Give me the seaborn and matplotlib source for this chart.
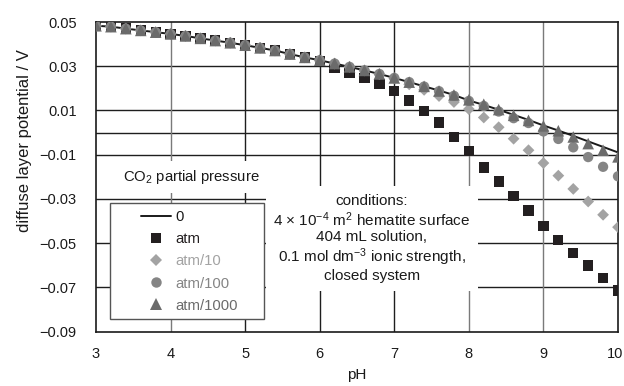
import numpy as np
import pandas as pd
import matplotlib
matplotlib.use("Agg")
import matplotlib.pyplot as plt
import matplotlib.transforms as mtrans
from matplotlib.lines import Line2D
from matplotlib.patches import Rectangle
import seaborn as sns

# ---------------- data ----------------
ph = [3.0, 3.2, 3.4, 3.6, 3.8, 4.0, 4.2, 4.4, 4.6, 4.8, 5.0, 5.2, 5.4, 5.6, 5.8,
      6.0, 6.2, 6.4, 6.6, 6.8, 7.0, 7.2, 7.4, 7.6, 7.8, 8.0, 8.2, 8.4, 8.6, 8.8,
      9.0, 9.2, 9.4, 9.6, 9.8, 10.0]

pot_zero = [0.0483, 0.0479, 0.0470, 0.0462, 0.0454, 0.0446, 0.0437, 0.0426, 0.0416,
            0.0406, 0.0395, 0.0383, 0.0371, 0.0355, 0.0340, 0.0327, 0.0312, 0.0297,
            0.0281, 0.0265, 0.0247, 0.0228, 0.0209, 0.0190, 0.0170, 0.0145, 0.0125,
            0.0103, 0.0080, 0.0057, 0.0032, 0.0009, -0.0015, -0.0040, -0.0065, -0.0090]

pot_atm = [0.0483, 0.0479, 0.0470, 0.0462, 0.0454, 0.0446, 0.0437, 0.0426, 0.0416,
           0.0406, 0.0395, 0.0383, 0.0371, 0.0355, 0.0340, 0.0325, 0.0292, 0.0270,
           0.0247, 0.0221, 0.0189, 0.0145, 0.0098, 0.0045, -0.0021, -0.0085, -0.0158,
           -0.0222, -0.0287, -0.0353, -0.0422, -0.0485, -0.0545, -0.0602, -0.0658, -0.0715]

pot_atm10 = [0.0483, 0.0479, 0.0470, 0.0462, 0.0454, 0.0446, 0.0437, 0.0426, 0.0416,
             0.0406, 0.0395, 0.0383, 0.0371, 0.0355, 0.0340, 0.0327, 0.0312, 0.0297,
             0.0281, 0.0264, 0.0245, 0.0218, 0.0193, 0.0165, 0.0138, 0.0106, 0.0068,
             0.0024, -0.0028, -0.0080, -0.0138, -0.0195, -0.0255, -0.0312, -0.0372, -0.0428]

pot_atm100 = [0.0483, 0.0479, 0.0470, 0.0462, 0.0454, 0.0446, 0.0437, 0.0426, 0.0416,
              0.0406, 0.0395, 0.0383, 0.0371, 0.0355, 0.0340, 0.0327, 0.0312, 0.0297,
              0.0281, 0.0265, 0.0247, 0.0228, 0.0208, 0.0187, 0.0166, 0.0143, 0.0120,
              0.0095, 0.0065, 0.0043, 0.0005, -0.0029, -0.0067, -0.0111, -0.0155, -0.0198]

pot_atm1000 = [0.0483, 0.0479, 0.0470, 0.0462, 0.0454, 0.0446, 0.0437, 0.0426, 0.0416,
               0.0406, 0.0395, 0.0383, 0.0371, 0.0355, 0.0340, 0.0327, 0.0312, 0.0297,
               0.0281, 0.0265, 0.0247, 0.0228, 0.0209, 0.0188, 0.0170, 0.0148, 0.0128,
               0.0104, 0.0078, 0.0055, 0.0030, 0.0008, -0.0020, -0.0050, -0.0080, -0.0110]

series_labels = ["0", "atm", "atm/10", "atm/100", "atm/1000"]
y_ticks = [0.05, 0.03, 0.01, -0.01, -0.03, -0.05, -0.07, -0.09]
y_tick_labels = ["0.05", "0.03", "0.01", "\u22120.01", "\u22120.03", "\u22120.05",
                 "\u22120.07", "\u22120.09"]
x_ticks = [3, 4, 5, 6, 7, 8, 9, 10]

# ---------------- style ----------------
sns.set_theme(style="white")
plt.rcParams["font.family"] = ["Liberation Sans", "DejaVu Sans"]
plt.rcParams["mathtext.fontset"] = "custom"
plt.rcParams["mathtext.rm"] = "Liberation Sans"
plt.rcParams["mathtext.it"] = "Liberation Sans:italic"
plt.rcParams["mathtext.default"] = "regular"

c_line = "#1a1a1a"
c_sq = "#231f20"
c_dia = "#a3a3a3"
c_cir = "#858585"
c_tri = "#6b6b6b"

fig = plt.figure(figsize=(6.24, 3.86), dpi=100)
ax = fig.add_axes([96 / 624, 1 - 331.5 / 386, 522 / 624, 309.5 / 386])

df = pd.DataFrame({"pH": ph, "0": pot_zero, "atm": pot_atm, "atm/10": pot_atm10,
                   "atm/100": pot_atm100, "atm/1000": pot_atm1000})

# grid lines
for yv in [0.03, 0.01, 0.0, -0.01, -0.03, -0.05, -0.07]:
    ax.axhline(yv, color="#1e1e1e", lw=1.0, zorder=0.5)
vcols = {4: "#7a7a7a", 5: "#1e1e1e", 6: "#1e1e1e", 7: "#1e1e1e", 8: "#7a7a7a", 9: "#7a7a7a"}
for xv, cc in vcols.items():
    ax.axvline(xv, color=cc, lw=1.0, zorder=0.5)

sns.lineplot(data=df, x="pH", y="0", color=c_line, lw=1.4, ax=ax, zorder=2)
sns.scatterplot(data=df, x="pH", y="atm", marker="s", s=55, color=c_sq,
                edgecolor="none", ax=ax, zorder=3)
sns.scatterplot(data=df, x="pH", y="atm/10", marker="D", s=36, color=c_dia,
                edgecolor="none", ax=ax, zorder=4)
sns.scatterplot(data=df, x="pH", y="atm/100", marker="o", s=55, color=c_cir,
                edgecolor="none", ax=ax, zorder=5)
sns.scatterplot(data=df, x="pH", y="atm/1000", marker="^", s=70, color=c_tri,
                edgecolor="none", ax=ax, zorder=6)

ax.set_xlim(3, 10)
ax.set_ylim(-0.09, 0.05)
ax.set_xticks(x_ticks)
ax.set_xticklabels([str(t) for t in x_ticks], fontsize=10.5, color="#1a1a1a")
ax.set_yticks(y_ticks)
ax.set_yticklabels(y_tick_labels, fontsize=10.5, color="#1a1a1a")
ax.tick_params(axis="y", length=0, pad=14)
ax.tick_params(axis="x", length=0, pad=11)
# keep the last x label inside the canvas
last = ax.get_xticklabels()[-1]
last.set_transform(last.get_transform() + mtrans.ScaledTranslation(-3 / 100, 0, fig.dpi_scale_trans))

ax.set_xlabel("pH", fontsize=11, color="#1a1a1a")
ax.xaxis.set_label_coords(0.5, (331.5 - 375) / 309.5)
ax.xaxis.label.set_va("center")
ax.set_ylabel("diffuse layer potential / V", fontsize=12, color="#1a1a1a")
ax.yaxis.set_label_coords((25 - 96) / 522, (331.5 - 141) / 309.5)
ax.yaxis.label.set_va("center")
for sp in ax.spines.values():
    sp.set_color("#1a1a1a")
    sp.set_linewidth(1.2)
    sp.set_visible(True)

# CO2 title
ax.text((123 - 96) / 522, (331.5 - 177) / 309.5, "CO$_2$ partial pressure",
        transform=ax.transAxes, ha="left", va="center", fontsize=10.7, color="#1a1a1a",
        zorder=10, bbox=dict(facecolor="white", edgecolor="none", pad=5))

# legend frame
rect = Rectangle(((110 - 96) / 522, (331.5 - 319) / 309.5), 154 / 522, 116 / 309.5,
                 transform=ax.transAxes, facecolor="white", edgecolor="#555555",
                 lw=1.0, zorder=10)
ax.add_patch(rect)

handles = [
    Line2D([], [], color=c_line, lw=1.4),
    Line2D([], [], color=c_sq, marker="s", ls="none", markersize=7.5, markeredgewidth=0),
    Line2D([], [], color=c_dia, marker="D", ls="none", markersize=6, markeredgewidth=0),
    Line2D([], [], color=c_cir, marker="o", ls="none", markersize=7.5, markeredgewidth=0),
    Line2D([], [], color=c_tri, marker="^", ls="none", markersize=8.5, markeredgewidth=0),
]
leg = ax.legend(handles, series_labels, loc="upper left",
                bbox_to_anchor=((141 - 96) / 522, (331.5 - 210) / 309.5),
                frameon=False, fontsize=10.7, handlelength=2.0, handletextpad=0.3,
                labelspacing=0.55, borderpad=0, borderaxespad=0)
leg.set_zorder(11)
text_cols = ["#1a1a1a", c_sq, c_dia, c_cir, c_tri]
for t, cc in zip(leg.get_texts(), text_cols):
    t.set_color(cc)

# conditions text
ax.text((372 - 96) / 522, (331.5 - 238.5) / 309.5,
        "conditions:\n4 \u00d7 10$^{-4}$ m$^2$ hematite surface\n404 mL solution,\n"
        "0.1 mol dm$^{-3}$ ionic strength,\nclosed system",
        transform=ax.transAxes, ha="center", va="center", fontsize=11,
        color="#1a1a1a", linespacing=1.13, zorder=10,
        bbox=dict(facecolor="white", edgecolor="none", boxstyle="square,pad=0.5"))

fig.savefig("out.png", dpi=100)
